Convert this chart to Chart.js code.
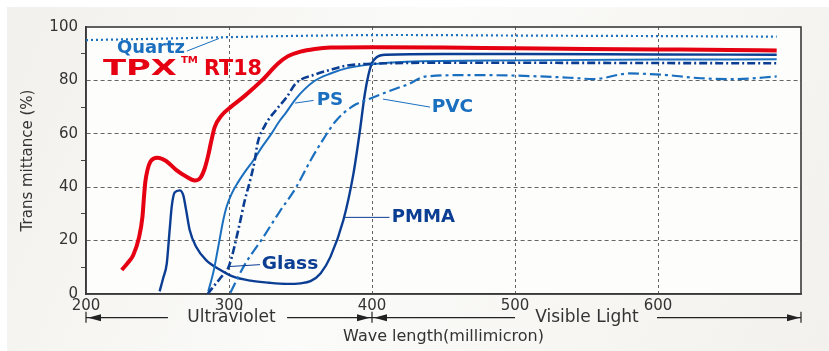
<!DOCTYPE html>
<html>
<head>
<meta charset="utf-8">
<script src="https://cdn.jsdelivr.net/npm/chart.js@4.4.1/dist/chart.umd.min.js"></script>
<style>
  html, body { margin: 0; padding: 0; background: #fff; }
</style>
</head>
<body>
<canvas id="transCanvas" width="829" height="351"></canvas>
<script>

// wavelength (nm) / transmittance (%)
const quartzNm = [200, 250, 300, 350, 420, 500, 600, 683];
const quartzT  = [95.1, 95.6, 96.2, 96.7, 97.0, 96.8, 96.6, 96.4];

const tpxNm = [225, 229, 233, 237, 239.5, 240.5, 241.5, 243, 245, 250, 256, 263, 270, 276, 280, 283, 285.5, 287.5, 290, 295, 300, 311, 323, 334.5, 341, 350, 360, 371, 400, 450, 500, 550, 600, 650, 683];
const tpxT  = [9, 11.5, 14.5, 21, 29, 36, 42, 46.5, 49.5, 51, 49.8, 46.5, 44, 42.5, 43.5, 47, 52, 57, 62.5, 67, 69.5, 74.2, 80, 86.4, 89, 90.8, 91.8, 92.3, 92.4, 92.3, 92, 91.8, 91.6, 91.4, 91.2];

const pmmaNm = [251.5, 254, 256.5, 258.5, 260, 262, 265.5, 268, 270, 272.5, 277, 284, 294, 303, 315, 328, 340, 350, 357, 364, 371, 380, 387, 391.5, 395, 397.5, 400, 403, 410, 450, 500, 600, 683];
const pmmaT  = [1, 6, 11.5, 24, 33, 38, 38.8, 37, 31.5, 24, 17.7, 12.7, 9, 6.5, 5, 4.2, 3.8, 4, 4.8, 7.7, 14, 27.7, 45, 61, 75, 82, 86.5, 88.6, 89.6, 89.9, 89.9, 89.7, 89.6];

const psNm = [285.5, 289, 292.5, 296, 298.3, 302, 306.5, 312, 317, 323, 329, 335, 340, 347, 359, 371, 382, 399, 424, 500, 600, 683];
const psT  = [1, 8, 17.7, 27.7, 32.7, 37.7, 42, 46.4, 50, 55, 59.5, 64.5, 68, 73.3, 79.5, 82.6, 84.5, 86, 87, 87.5, 87.8, 87.9];

const glassNm = [285, 288, 294, 300, 306.5, 311, 315, 318, 320, 325, 333, 340, 347, 359, 371, 382, 399, 450, 500, 600, 683];
const glassT  = [0, 2, 6, 10.5, 24, 35, 43, 50, 56.5, 63, 69, 73.5, 79, 82, 84, 85.5, 86.2, 86.6, 86.6, 86.5, 86.4];

const pvcNm = [301, 311, 323, 335, 347, 357, 366, 375, 387, 398, 412, 425, 438, 470, 500, 538, 555, 580, 606, 630, 655, 683];
const pvcT  = [0.5, 11, 20.5, 30.5, 40, 50, 58, 65, 70.5, 73, 76, 78.5, 81.5, 82, 81.8, 81, 80.5, 82.6, 82, 80.8, 80.5, 81.5];

const xTicks = [200, 300, 400, 500, 600];
const yTicks = [0, 20, 40, 60, 80, 100];

const RED = "#e50012";
const NAVY = "#0b3e93";
const BLUE = "#1b6fbf";
const INK = "#333333";

function pts(nm, t) {
    return nm.map((x, i) => ({ x: x, y: t[i] }));
}

// page panel, plot background and frame
const backdrop = {
    id: "backdrop",
    beforeDraw(chart) {
        const { ctx, width, height, chartArea: a } = chart;
        ctx.save();
        ctx.fillStyle = "#ffffff";
        ctx.fillRect(0, 0, width, height);
        const g = ctx.createLinearGradient(0, 0, width, height);
        g.addColorStop(0, "#f1f0ec");
        g.addColorStop(0.45, "#fbfbf9");
        g.addColorStop(1, "#f2f1ed");
        ctx.fillStyle = g;
        ctx.fillRect(7, 7, width - 7, height - 7);
        ctx.fillStyle = "#fdfdfc";
        ctx.fillRect(a.left, a.top, a.right - a.left, a.bottom - a.top);
        ctx.restore();
    },
    beforeDatasetsDraw(chart) {
        const { ctx, chartArea: a } = chart;
        ctx.save();
        ctx.strokeStyle = "#3a3a3a";
        ctx.lineWidth = 1.6;
        ctx.strokeRect(a.left, a.top, a.right - a.left, a.bottom - a.top);
        ctx.restore();
    }
};

// text stretched to the width it has in the picture
function fitText(ctx, str, x1, x2, cy, font, color) {
    ctx.save();
    ctx.font = font;
    ctx.fillStyle = color;
    ctx.textBaseline = "middle";
    ctx.textAlign = "left";
    const w = ctx.measureText(str).width;
    ctx.translate(x1, cy);
    ctx.scale((x2 - x1) / w, 1);
    ctx.fillText(str, 0, 0);
    ctx.restore();
}

function leader(ctx, x1, y1, x2, y2, color) {
    ctx.save();
    ctx.strokeStyle = color;
    ctx.lineWidth = 1;
    ctx.beginPath();
    ctx.moveTo(x1, y1);
    ctx.lineTo(x2, y2);
    ctx.stroke();
    ctx.restore();
}

function arrowHead(ctx, tipX, y, dir) {
    ctx.beginPath();
    ctx.moveTo(tipX, y);
    ctx.lineTo(tipX - dir * 13, y - 3.5);
    ctx.lineTo(tipX - dir * 13, y + 3.5);
    ctx.closePath();
    ctx.fill();
}

const labels = {
    id: "labels",
    afterDraw(chart) {
        const { ctx, chartArea: a } = chart;
        const X = v => chart.scales.x.getPixelForValue(v);
        const Y = v => chart.scales.y.getPixelForValue(v);

        // curve names
        fitText(ctx, "Quartz", X(221.7), X(269.2), Y(91.8), "bold 17px 'DejaVu Sans'", BLUE);
        leader(ctx, X(270.6), Y(91.0), X(293), Y(95.7), BLUE);

        fitText(ctx, "TPX", X(211.9), X(263.6), Y(83.9), "bold 21px 'DejaVu Sans'", RED);
        fitText(ctx, "TM", X(266.4), X(278.3), Y(87.3), "bold 9px 'DejaVu Sans'", RED);
        fitText(ctx, "RT18", X(282.5), X(323.1), Y(83.9), "bold 21px 'DejaVu Sans'", RED);

        fitText(ctx, "PS", X(361.3), X(379.9), Y(72.3), "bold 17px 'DejaVu Sans'", BLUE);
        leader(ctx, X(346.2), Y(71.5), X(359.1), Y(72.5), BLUE);

        fitText(ctx, "PVC", X(441.7), X(470.8), Y(70.0), "bold 17px 'DejaVu Sans'", BLUE);
        leader(ctx, X(407.7), Y(73.0), X(440.6), Y(70.0), BLUE);

        fitText(ctx, "PMMA", X(413.8), X(458), Y(28.7), "bold 17px 'DejaVu Sans'", NAVY);
        leader(ctx, X(381.1), Y(28.7), X(412.2), Y(28.7), NAVY);

        fitText(ctx, "Glass", X(322.9), X(362.4), Y(11.2), "bold 17px 'DejaVu Sans'", NAVY);
        leader(ctx, X(300.7), Y(10.3), X(321.7), Y(11.0), NAVY);

        // Ultraviolet / Visible Light ranges under the axis
        const ry = a.bottom + 23.7;
        ctx.save();
        ctx.strokeStyle = "#222";
        ctx.fillStyle = "#222";
        ctx.lineWidth = 1.2;
        [200, 400, 700].forEach(v => {
            ctx.beginPath();
            ctx.moveTo(X(v), ry - 6);
            ctx.lineTo(X(v), ry + 5);
            ctx.stroke();
        });
        const seg = (v1, v2) => {
            ctx.beginPath();
            ctx.moveTo(X(v1), ry);
            ctx.lineTo(X(v2), ry);
            ctx.stroke();
        };
        seg(200, 257.3);
        arrowHead(ctx, X(200) + 2, ry, -1);
        seg(340.6, 400);
        arrowHead(ctx, X(400) - 2, ry, 1);
        seg(400, 500);
        arrowHead(ctx, X(400) + 2, ry, -1);
        seg(599.3, 700);
        arrowHead(ctx, X(700) - 1, ry, 1);
        ctx.font = "17px 'DejaVu Sans'";
        ctx.textAlign = "center";
        ctx.textBaseline = "middle";
        ctx.fillStyle = INK;
        ctx.fillText("Ultraviolet", X(301.7), ry);
        ctx.fillText("Visible Light", X(550.3), ry);
        ctx.restore();
    }
};

const transCanvas = document.getElementById("transCanvas");
const transChart = new Chart(transCanvas, {
    type: "line",
    data: {
        datasets: [
            { label: "Quartz", data: pts(quartzNm, quartzT), borderColor: BLUE, borderWidth: 2.2, borderDash: [2, 3] },
            { label: "PVC", data: pts(pvcNm, pvcT), borderColor: BLUE, borderWidth: 2.2, borderDash: [11, 4, 3, 4] },
            { label: "Glass", data: pts(glassNm, glassT), borderColor: NAVY, borderWidth: 2.6, borderDash: [8, 3, 2, 3] },
            { label: "PS", data: pts(psNm, psT), borderColor: BLUE, borderWidth: 2 },
            { label: "PMMA", data: pts(pmmaNm, pmmaT), borderColor: NAVY, borderWidth: 2.4 },
            { label: "TPX RT18", data: pts(tpxNm, tpxT), borderColor: RED, borderWidth: 4 }
        ]
    },
    options: {
        responsive: false,
        devicePixelRatio: 1,
        animation: false,
        layout: { padding: { top: 27, right: 28, left: 0, bottom: 0 } },
        elements: {
            point: { radius: 0 },
            line: { fill: false, cubicInterpolationMode: "monotone", borderJoinStyle: "round" }
        },
        plugins: {
            legend: { display: false },
            tooltip: { enabled: false }
        },
        scales: {
            x: {
                type: "linear",
                min: 200,
                max: 700,
                afterFit: s => { s.height = 57; },
                afterBuildTicks: s => { s.ticks = xTicks.concat([700]).map(v => ({ value: v })); },
                ticks: {
                    autoSkip: false,
                    maxRotation: 0,
                    padding: 3,
                    color: INK,
                    font: { family: "'DejaVu Sans'", size: 15 },
                    callback: v => (xTicks.includes(v) ? String(v) : "")
                },
                grid: {
                    drawTicks: false,
                    color: c => (c.tick && c.tick.value > 200 && c.tick.value < 700 ? "#666" : "rgba(0,0,0,0)"),
                    lineWidth: 1
                },
                border: { display: true, color: "#3a3a3a", width: 1.6, dash: [3, 3] },
                title: {
                    display: true,
                    text: "Wave length(millimicron)",
                    color: INK,
                    font: { family: "'DejaVu Sans'", size: 16 },
                    padding: { top: 0, bottom: 5 }
                }
            },
            y: {
                type: "linear",
                min: 0,
                max: 100,
                afterFit: s => { s.width = 86; },
                ticks: {
                    stepSize: 10,
                    padding: 3,
                    color: INK,
                    font: { family: "'DejaVu Sans'", size: 15 },
                    callback: v => (yTicks.includes(v) ? String(v) : "")
                },
                grid: {
                    drawTicks: true,
                    tickLength: 5,
                    color: c => (c.tick && c.tick.value % 20 === 0 && c.tick.value > 0 && c.tick.value < 100 ? "#666" : "rgba(0,0,0,0)"),
                    tickColor: c => (c.tick && c.tick.value % 20 !== 0 ? "#444" : "rgba(0,0,0,0)"),
                    lineWidth: 1
                },
                border: { display: true, color: "#3a3a3a", width: 1.6, dash: [4, 3] },
                title: {
                    display: true,
                    text: "Trans mittance (%)",
                    color: INK,
                    font: { family: "'DejaVu Sans'", size: 15 },
                    padding: { top: 19, bottom: 0 }
                }
            }
        }
    },
    plugins: [backdrop, labels]
});
</script>
</body>
</html>
